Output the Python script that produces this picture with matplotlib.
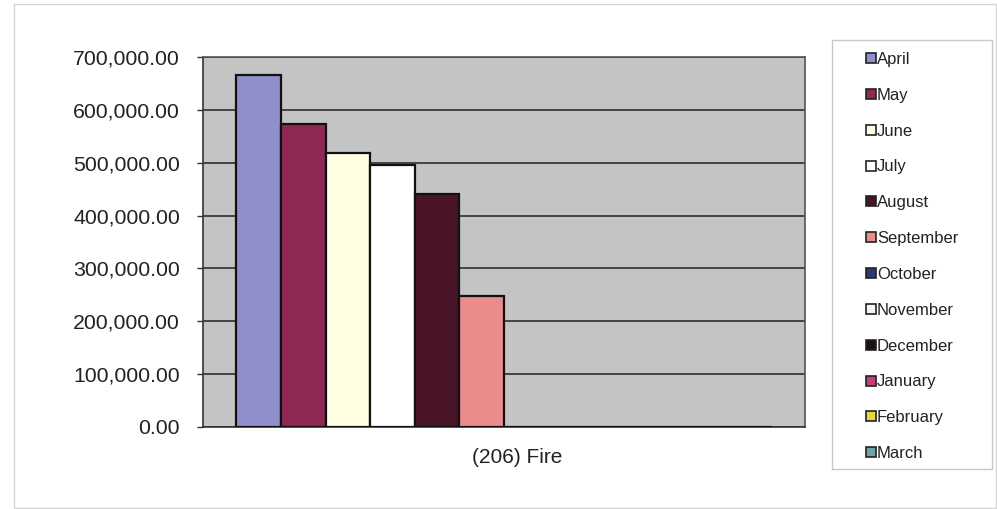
#!/usr/bin/env python3
"""Monthly totals for (206) Fire, clustered column chart in old spreadsheet style."""

import matplotlib
matplotlib.use("Agg")
import matplotlib.pyplot as plt
import matplotlib.transforms as mtransforms
from matplotlib.lines import Line2D
from matplotlib.patches import Rectangle
from matplotlib.ticker import FuncFormatter, MultipleLocator

plt.rcParams["font.family"] = ["Liberation Sans", "DejaVu Sans"]

# ── Data ──────────────────────────────────────────────────────────────────────
category = "(206) Fire"
months = ["April", "May", "June", "July", "August", "September",
          "October", "November", "December", "January", "February", "March"]
values = [666000, 573000, 518000, 496000, 441000, 248000,
          0, 0, 0, 0, 0, 0]
colors = ["#8f8fcc", "#8e2855", "#fffde2", "#ffffff", "#4a1428", "#e88c8c",
          "#2a3a70", "#f4f4fa", "#1a1014", "#c4407a", "#e8d840", "#70a4a4"]

# ── Figure ────────────────────────────────────────────────────────────────────
W, H = 997, 509
fig = plt.figure(figsize=(W / 100, H / 100), dpi=100)
fig.patch.set_facecolor("white")

def px_box(x0, y0, x1, y1):
    """Pixel box (top-left origin) -> figure-fraction rect."""
    return [x0 / W, 1 - y1 / H, (x1 - x0) / W, (y1 - y0) / H]

ax = fig.add_axes(px_box(203, 57, 805, 427))
ax.set_facecolor("#c4c4c4")

n = len(months)
gap = 1.5
w = 1.0 / (n + gap)
start = -0.5 + gap * w / 2
for i, (m, v, c) in enumerate(zip(months, values, colors)):
    ax.bar(start + (i + 0.5) * w, v, width=w, color=c,
           edgecolor="#111111", linewidth=1.6, zorder=3)

ax.set_xlim(-0.5, 0.5)
ax.set_ylim(0, 700000)
ax.yaxis.set_major_locator(MultipleLocator(100000))
ax.yaxis.set_major_formatter(FuncFormatter(lambda v, _: f"{v:,.2f}"))
ax.grid(axis="y", color="#3a3a3a", linewidth=1.3, zorder=1)
ax.set_axisbelow(True)

ax.set_xticks([0])
ax.set_xticklabels([category])
ax.tick_params(axis="x", length=0, pad=15, labelsize=15, labelcolor="#222222")
ax.tick_params(axis="y", length=4, width=1, direction="out", pad=12.5,
               labelsize=15.3, colors="#333333", labelcolor="#222222")
# the category label sits a little right of the plot centre
shift = mtransforms.ScaledTranslation(13 / 100, 0, fig.dpi_scale_trans)
for lbl in ax.get_xticklabels():
    lbl.set_transform(lbl.get_transform() + shift)

for side in ("left", "bottom", "right", "top"):
    ax.spines[side].set_color("#555555")
    ax.spines[side].set_linewidth(1.2)
ax.spines["left"].set_color("#333333")
ax.spines["bottom"].set_color("#333333")

# Outer chart border and legend frame
fig.patches.append(Rectangle((14 / W, 1 - 508 / H), (996 - 14) / W, (508 - 4) / H,
                             transform=fig.transFigure, fill=False,
                             edgecolor="#d4d4d4", linewidth=1.0))
fig.patches.append(Rectangle((832 / W, 1 - 469 / H), (992 - 832) / W, (469 - 40) / H,
                             transform=fig.transFigure, fill=False,
                             edgecolor="#c8c8c8", linewidth=1.0))

handles = [Line2D([], [], linestyle="none", marker="s", markersize=7,
                  markerfacecolor=c, markeredgecolor="#222222",
                  markeredgewidth=1.2, label=m)
           for m, c in zip(months, colors)]
fig.legend(handles=handles, loc="upper left",
           bbox_to_anchor=(866 / W, 1 - 52 / H), frameon=False,
           fontsize=12, handlelength=0.55, handletextpad=0.1,
           labelspacing=1.25, borderpad=0, borderaxespad=0,
           labelcolor="#222222")

fig.savefig("out.png", dpi=100)
